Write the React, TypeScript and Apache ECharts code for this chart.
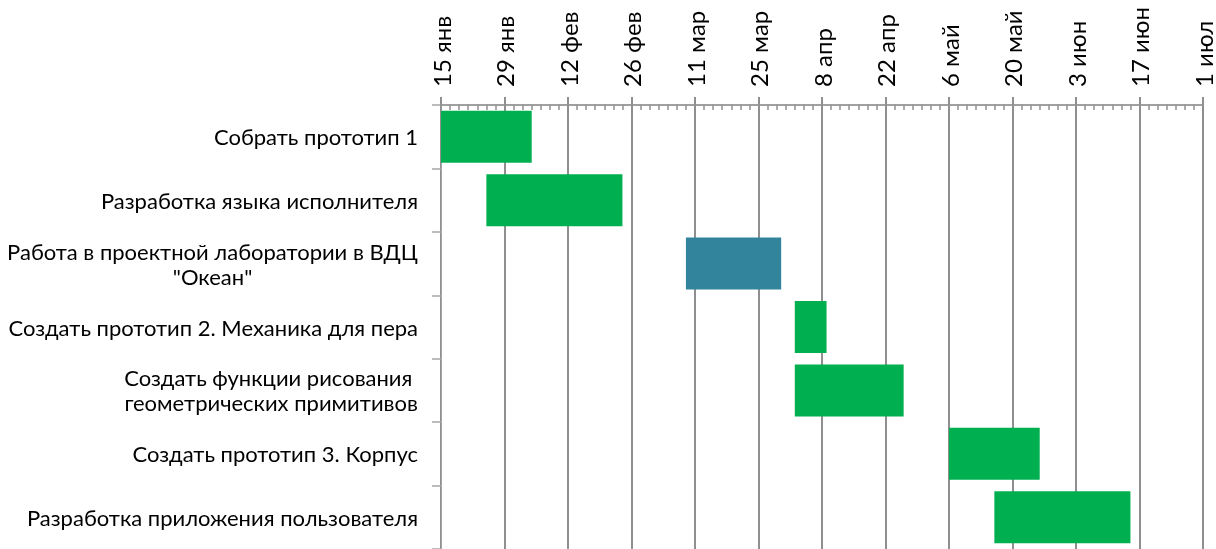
import React, { useEffect, useRef } from "react";
import * as echarts from "echarts";

const tasks = [
  "Собрать прототип 1",
  "Разработка языка исполнителя",
  "Работа в проектной лаборатории в ВДЦ\n\"Океан\"",
  "Создать прототип 2. Механика для пера",
  "Создать функции рисования \nгеометрических примитивов",
  "Создать прототип 3. Корпус",
  "Разработка приложения пользователя",
];
const startDates = [
  "2024-01-15",
  "2024-01-25",
  "2024-03-09",
  "2024-04-02",
  "2024-04-02",
  "2024-05-06",
  "2024-05-16",
];
const durations = [20, 30, 21, 7, 24, 20, 30];
const barColors = ["#00B050", "#00B050", "#31849B", "#00B050", "#00B050", "#00B050", "#00B050"];
const axisStart = "2024-01-15";
const axisEnd = "2024-07-01";
const tickDays = 14;
const monthNames = ["янв", "фев", "мар", "апр", "май", "июн", "июл", "авг", "сен", "окт", "ноя", "дек"];

const DAY = 86400000;
const toMs = (s: string) => {
  const [y, m, d] = s.split("-").map(Number);
  return Date.UTC(y, m - 1, d);
};
const base = toMs(axisStart);
const offsets = startDates.map((s) => Math.round((toMs(s) - base) / DAY));
const axisMax = Math.round((toMs(axisEnd) - base) / DAY);

const FONT = "Lato, 'Noto Sans', sans-serif";

export default function App() {
  const ref = useRef<HTMLDivElement>(null);
  useEffect(() => {
    if (!ref.current) return;
    const chart = echarts.init(ref.current, undefined, { renderer: "svg" });
    const fmtDate = (v: number) => {
      const d = new Date(base + v * DAY);
      return `${d.getUTCDate()} ${monthNames[d.getUTCMonth()]}`;
    };
    chart.setOption({
      animation: false,
      grid: { left: 441, right: 13, top: 105, bottom: 0, containLabel: false },
      xAxis: [
        {
          type: "value",
          position: "top",
          min: 0,
          max: axisMax,
          interval: tickDays,
          axisLine: { show: true, lineStyle: { color: "#a0a0a0", width: 2 } },
          axisTick: { show: true, inside: true, length: 5, lineStyle: { color: "#8f8f8f", width: 1.5 } },
          minorTick: { show: true, splitNumber: 7, length: 5, lineStyle: { color: "#8f8f8f", width: 1.5 } },
          splitLine: { show: true, lineStyle: { color: "#8f8f8f", width: 2 } },
          axisLabel: {
            rotate: -90,
            margin: 18,
            fontSize: 24,
            fontFamily: FONT,
            color: "#000",
            formatter: fmtDate,
          },
        },
        {
          type: "value",
          position: "top",
          min: 0,
          max: axisMax,
          interval: tickDays,
          axisLine: { show: false },
          axisTick: { show: true, inside: false, length: 8, lineStyle: { color: "#8f8f8f", width: 2 } },
          splitLine: { show: false },
          axisLabel: { show: false },
        },
      ],
      yAxis: {
        type: "category",
        inverse: true,
        data: tasks,
        axisLine: { show: true, lineStyle: { color: "#a6a6a6", width: 1 } },
        axisTick: { show: true, length: 9, lineStyle: { color: "#a6a6a6", width: 1.5 } },
        axisLabel: {
          margin: 23,
          formatter: (v: string) =>
            v
              .split("\n")
              .map((l) => `{c|${l}}`)
              .join("\n"),
          rich: {
            c: { align: "center", fontSize: 22, fontFamily: FONT, color: "#000", lineHeight: 25 },
          },
        },
      },
      series: [
        {
          type: "bar",
          stack: "gantt",
          silent: true,
          barCategoryGap: "18%",
          itemStyle: { color: "transparent" },
          data: offsets,
        },
        {
          type: "bar",
          stack: "gantt",
          silent: true,
          barCategoryGap: "18%",
          data: durations.map((d, i) => ({ value: d, itemStyle: { color: barColors[i] } })),
        },
      ],
    });
    return () => chart.dispose();
  }, []);
  return <div ref={ref} style={{ position: "fixed", left: 0, top: 0, width: 1216, height: 549 }} />;
}
